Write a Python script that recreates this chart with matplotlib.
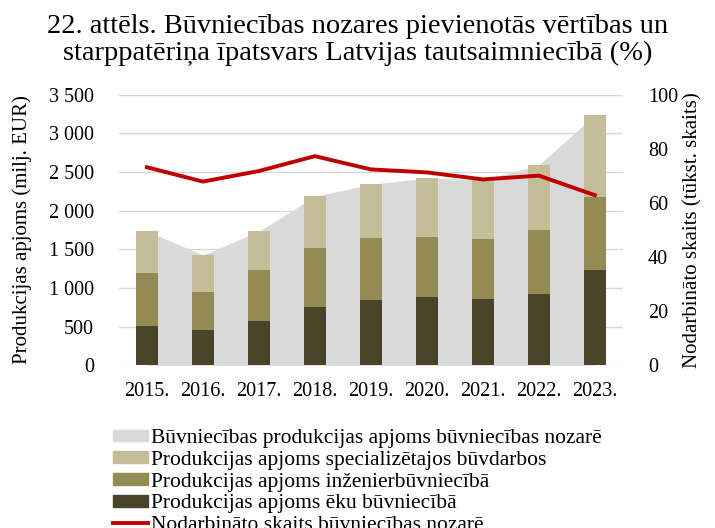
import matplotlib
matplotlib.use("Agg")
import matplotlib.pyplot as plt
import numpy as np
from matplotlib.ticker import FuncFormatter
from matplotlib.patches import Patch
from matplotlib.lines import Line2D

years = ["2015.", "2016.", "2017.", "2018.", "2019.", "2020.", "2021.", "2022.", "2023."]
total_area = [1737, 1427, 1733, 2186, 2341, 2423, 2397, 2591, 3237]
buildings = [505, 457, 577, 758, 849, 880, 854, 926, 1237]
engineering = [689, 495, 656, 763, 798, 784, 784, 820, 944]
specialised = [543, 475, 500, 665, 694, 759, 759, 845, 1056]
employed = [73.2, 67.9, 71.8, 77.3, 72.4, 71.3, 68.7, 70.1, 62.9]

title = "22. attēls. Būvniecības nozares pievienotās vērtības un\nstarppatēriņa īpatsvars Latvijas tautsaimniecībā (%)"
ylabel_left = "Produkcijas apjoms (milj. EUR)"
ylabel_right = "Nodarbināto skaits (tūkst. skaits)"
legend_labels = [
    "Būvniecības produkcijas apjoms būvniecības nozarē",
    "Produkcijas apjoms specializētajos būvdarbos",
    "Produkcijas apjoms inženierbūvniecībā",
    "Produkcijas apjoms ēku būvniecībā",
    "Nodarbināto skaits būvniecības nozarē",
]

plt.rcParams['font.family'] = ['Liberation Serif', 'DejaVu Serif']

fig = plt.figure(figsize=(7.15, 5.28), dpi=100)
ax = fig.add_axes([0.1664, 0.3081, 0.7046, 0.5125])
ax2 = ax.twinx()

x = np.arange(len(years))
c_area = "#d9d9d9"
c_spec = "#c4bd97"
c_eng = "#948a54"
c_bld = "#4a452a"
c_red = "#c00000"

ax.fill_between(x, 0, total_area, color=c_area, lw=0, zorder=1)
w = 0.4
b1 = np.array(buildings)
b2 = b1 + np.array(engineering)
ax.bar(x, buildings, w, color=c_bld, zorder=2)
ax.bar(x, engineering, w, bottom=b1, color=c_eng, zorder=2)
ax.bar(x, specialised, w, bottom=b2, color=c_spec, zorder=2)

ax.set_xlim(-0.5, len(years) - 0.5)
ax.set_ylim(0, 3500)
ax.set_yticks(np.arange(0, 3501, 500))
ax.yaxis.set_major_formatter(FuncFormatter(lambda v, p: f"{int(v):,}".replace(",", " ")))
ax.grid(axis='y', color='#d9d9d9', lw=1, zorder=0)
ax.set_axisbelow(True)
ax.set_xticks(x)
ax.set_xticklabels(years)
for s in ax.spines.values():
    s.set_visible(False)
for s in ax2.spines.values():
    s.set_visible(False)
ax.tick_params(length=0, labelsize=14.5, pad=12)
ax.tick_params(axis='y', pad=18)
ax.set_ylabel(ylabel_left, fontsize=15)
ax.yaxis.set_label_coords(-0.172, 0.5)

ax2.plot(x, employed, color=c_red, lw=2.8, zorder=5)
ax2.set_ylim(0, 100)
ax2.set_yticks(np.arange(0, 101, 20))
ax2.tick_params(length=0, labelsize=14.5, pad=18)
ax2.set_ylabel(ylabel_right, fontsize=15, labelpad=4)

fig.text(0.5, 1 - 40 / 528, title, fontsize=20.5, ha='center', va='center', linespacing=1.12)

handles = [Patch(color=c_area), Patch(color=c_spec), Patch(color=c_eng), Patch(color=c_bld),
           Line2D([0], [0], color=c_red, lw=2.8)]
fig.legend(handles, legend_labels, loc='upper left', bbox_to_anchor=(0.158, 1 - 429 / 528),
           frameon=False, fontsize=15.5, handlelength=1.65, handleheight=0.45,
           handletextpad=0.1, labelspacing=0.13, borderpad=0, borderaxespad=0)

fig.savefig("out.png", dpi=100)
